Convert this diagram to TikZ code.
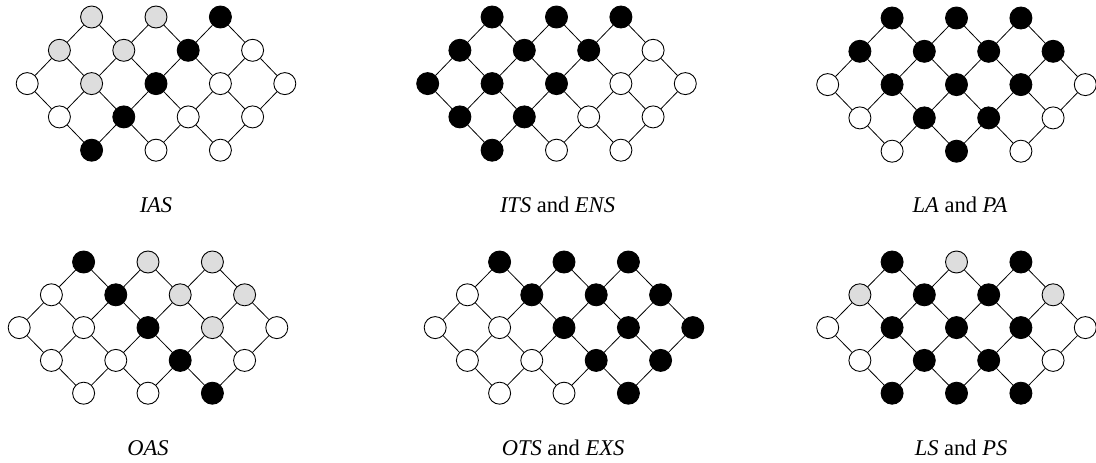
\documentclass[tikz,border=0pt]{standalone}
\usepackage{fontspec}
\setmainfont{Liberation Serif}
\definecolor{lgray}{HTML}{DDDDDD}
\tikzset{
  nd/.style={circle,draw=black,line width=0.9pt,minimum size=22pt,inner sep=0pt},
  W/.style={fill=white},
  G/.style={fill=lgray},
  B/.style={fill=black},
  edge/.style={line width=0.8pt},
  lab/.style={anchor=base,inner sep=0pt,font=\fontsize{22.5}{26}\selectfont}
}
\newcommand\lat[5]{%
  \foreach \c [count=\i] in {#5} {
    \pgfmathtruncatemacro\gx{{2,4,6,1,3,5,7,0,2,4,6,8,1,3,5,7,2,4,6}[\i-1]}
    \pgfmathtruncatemacro\gy{{0,0,0,1,1,1,1,2,2,2,2,2,3,3,3,3,4,4,4}[\i-1]}
    \node[nd,\c] (#1-\gx-\gy) at ({#2+(\gx-4)*32.2},{#3+\gy*#4}) {};
  }
  \foreach \a/\b in {2-0/1-1,2-0/3-1,4-0/3-1,4-0/5-1,6-0/5-1,6-0/7-1,
    1-1/0-2,1-1/2-2,3-1/2-2,3-1/4-2,5-1/4-2,5-1/6-2,7-1/6-2,7-1/8-2,
    0-2/1-3,2-2/1-3,2-2/3-3,4-2/3-3,4-2/5-3,6-2/5-3,6-2/7-3,8-2/7-3,
    1-3/2-4,3-3/2-4,3-3/4-4,5-3/4-4,5-3/6-4,7-3/6-4}
    \draw[edge] (#1-\a) -- (#1-\b);
}
\begin{document}
\begin{tikzpicture}[x=1pt,y=-1pt]
\useasboundingbox (0,0) rectangle (1096,463);
\lat{p1}{156}{17}{33.3}{G,G,B, G,G,B,W, W,G,B,W,W, W,B,W,W, B,W,W}
\lat{p2}{556.5}{17}{33.3}{B,B,B, B,B,B,W, B,B,B,W,W, B,B,W,W, B,W,W}
\lat{p3}{956.5}{18}{33.3}{B,B,B, B,B,B,B, W,B,B,B,W, W,B,B,W, W,B,W}
\lat{p4}{148}{262}{32.8}{B,G,G, W,B,G,G, W,W,B,G,W, W,W,B,W, W,W,B}
\lat{p5}{564}{262}{32.8}{B,B,B, W,B,B,B, W,W,B,B,B, W,W,B,B, W,W,B}
\lat{p6}{956.5}{262}{32.8}{B,G,B, G,B,B,G, W,B,B,B,W, W,B,B,W, B,B,B}
\node[lab] (l1) at (156,212) {\textit{IAS}};
\node[lab] (l2) at (557.5,212) {\textit{ITS} and \textit{ENS}};
\node[lab] (l3) at (960,212) {\textit{LA} and \textit{PA}};
\node[lab] (l4) at (148,455) {\textit{OAS}};
\node[lab] (l5) at (563,455) {\textit{OTS} and \textit{EXS}};
\node[lab] (l6) at (961,455) {\textit{LS} and \textit{PS}};
\end{tikzpicture}
\end{document}
